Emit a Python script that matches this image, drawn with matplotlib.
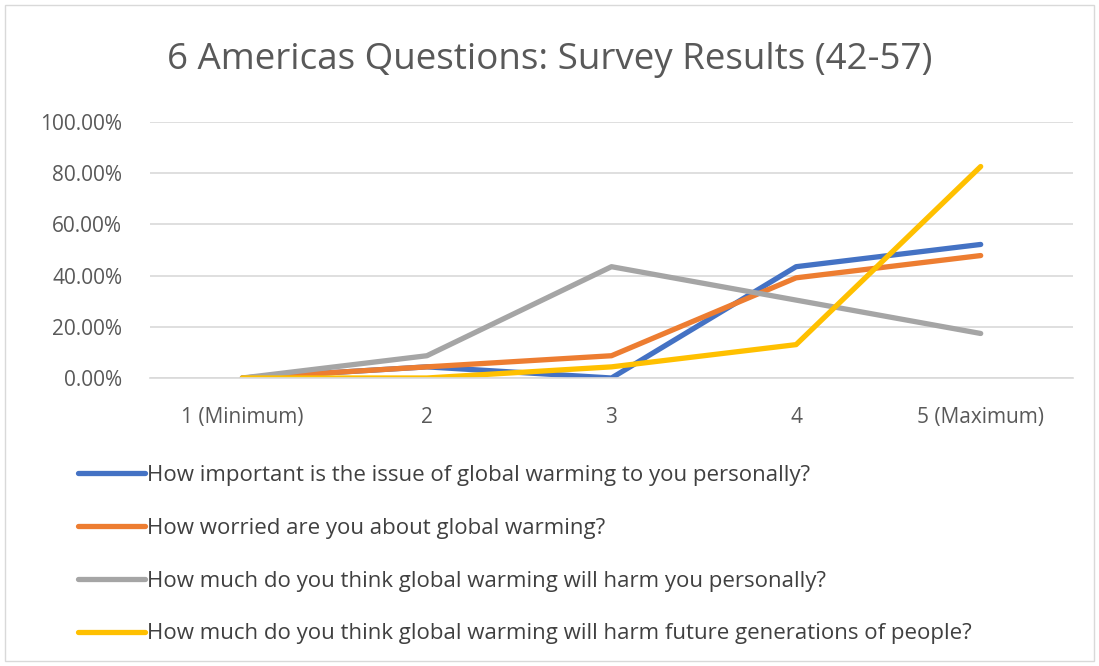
import matplotlib.pyplot as plt
import matplotlib.patches as mpatches
from matplotlib.ticker import FuncFormatter

plt.rcParams['font.family'] = ['Open Sans', 'DejaVu Sans']

# survey answer scale
categories = ['1 (Minimum)', '2', '3', '4', '5 (Maximum)']

# share of respondents per answer (fractions)
important = [0.0, 0.0435, 0.0, 0.4348, 0.5217]
worried = [0.0, 0.0435, 0.0870, 0.3913, 0.4783]
harm_you = [0.0, 0.0870, 0.4348, 0.3043, 0.1739]
harm_future = [0.0, 0.0, 0.0435, 0.1304, 0.8261]

labels = ['How important is the issue of global warming to you personally?',
          'How worried are you about global warming?',
          'How much do you think global warming will harm you personally?',
          'How much do you think global warming will harm future generations of people?']
colors = ['#4472C4', '#ED7D31', '#A5A5A5', '#FFC000']

fig = plt.figure(figsize=(10.99, 6.66), dpi=100)
ax = fig.add_axes([150/1099, 1-378/666, 923/1099, 256/666])

x = list(range(1, len(categories) + 1))
for series, lab, col in zip([important, worried, harm_you, harm_future], labels, colors):
    ax.plot(x, series, color=col, lw=3.8, label=lab, solid_capstyle='round', solid_joinstyle='round')

ax.set_xlim(0.5, len(categories) + 0.5)
ax.set_ylim(0, 1.0)
ax.set_yticks([0, 0.2, 0.4, 0.6, 0.8, 1.0])
ax.yaxis.set_major_formatter(FuncFormatter(lambda v, p: f'{v*100:.2f}%'))
ax.set_xticks(x)
ax.set_xticklabels(categories)
ax.grid(axis='y', color='#D9D9D9', lw=1.2)
ax.set_axisbelow(True)
for s in ['top', 'right', 'left']:
    ax.spines[s].set_visible(False)
ax.spines['bottom'].set_color('#D9D9D9')
ax.spines['bottom'].set_linewidth(1.2)
ax.tick_params(length=0, labelsize=15, labelcolor='#595959')
ax.tick_params(axis='x', pad=21)
ax.tick_params(axis='y', pad=20)

fig.text(0.5, 1-60/666, '6 Americas Questions: Survey Results (42-57)', ha='center', va='center',
         fontsize=26.5, color='#595959')

fig.legend(loc='upper left', bbox_to_anchor=(78/1099, 1-465/666), frameon=False,
           fontsize=16, handlelength=3.0, handletextpad=0.1, labelspacing=1.43,
           labelcolor='#404040', borderaxespad=0, borderpad=0)

fig.patches.append(mpatches.Rectangle((5/1099, 5/666), 1089/1099, 656/666, transform=fig.transFigure,
                                      fill=False, edgecolor='#D9D9D9', lw=1))

fig.savefig('out.png', dpi=100)
